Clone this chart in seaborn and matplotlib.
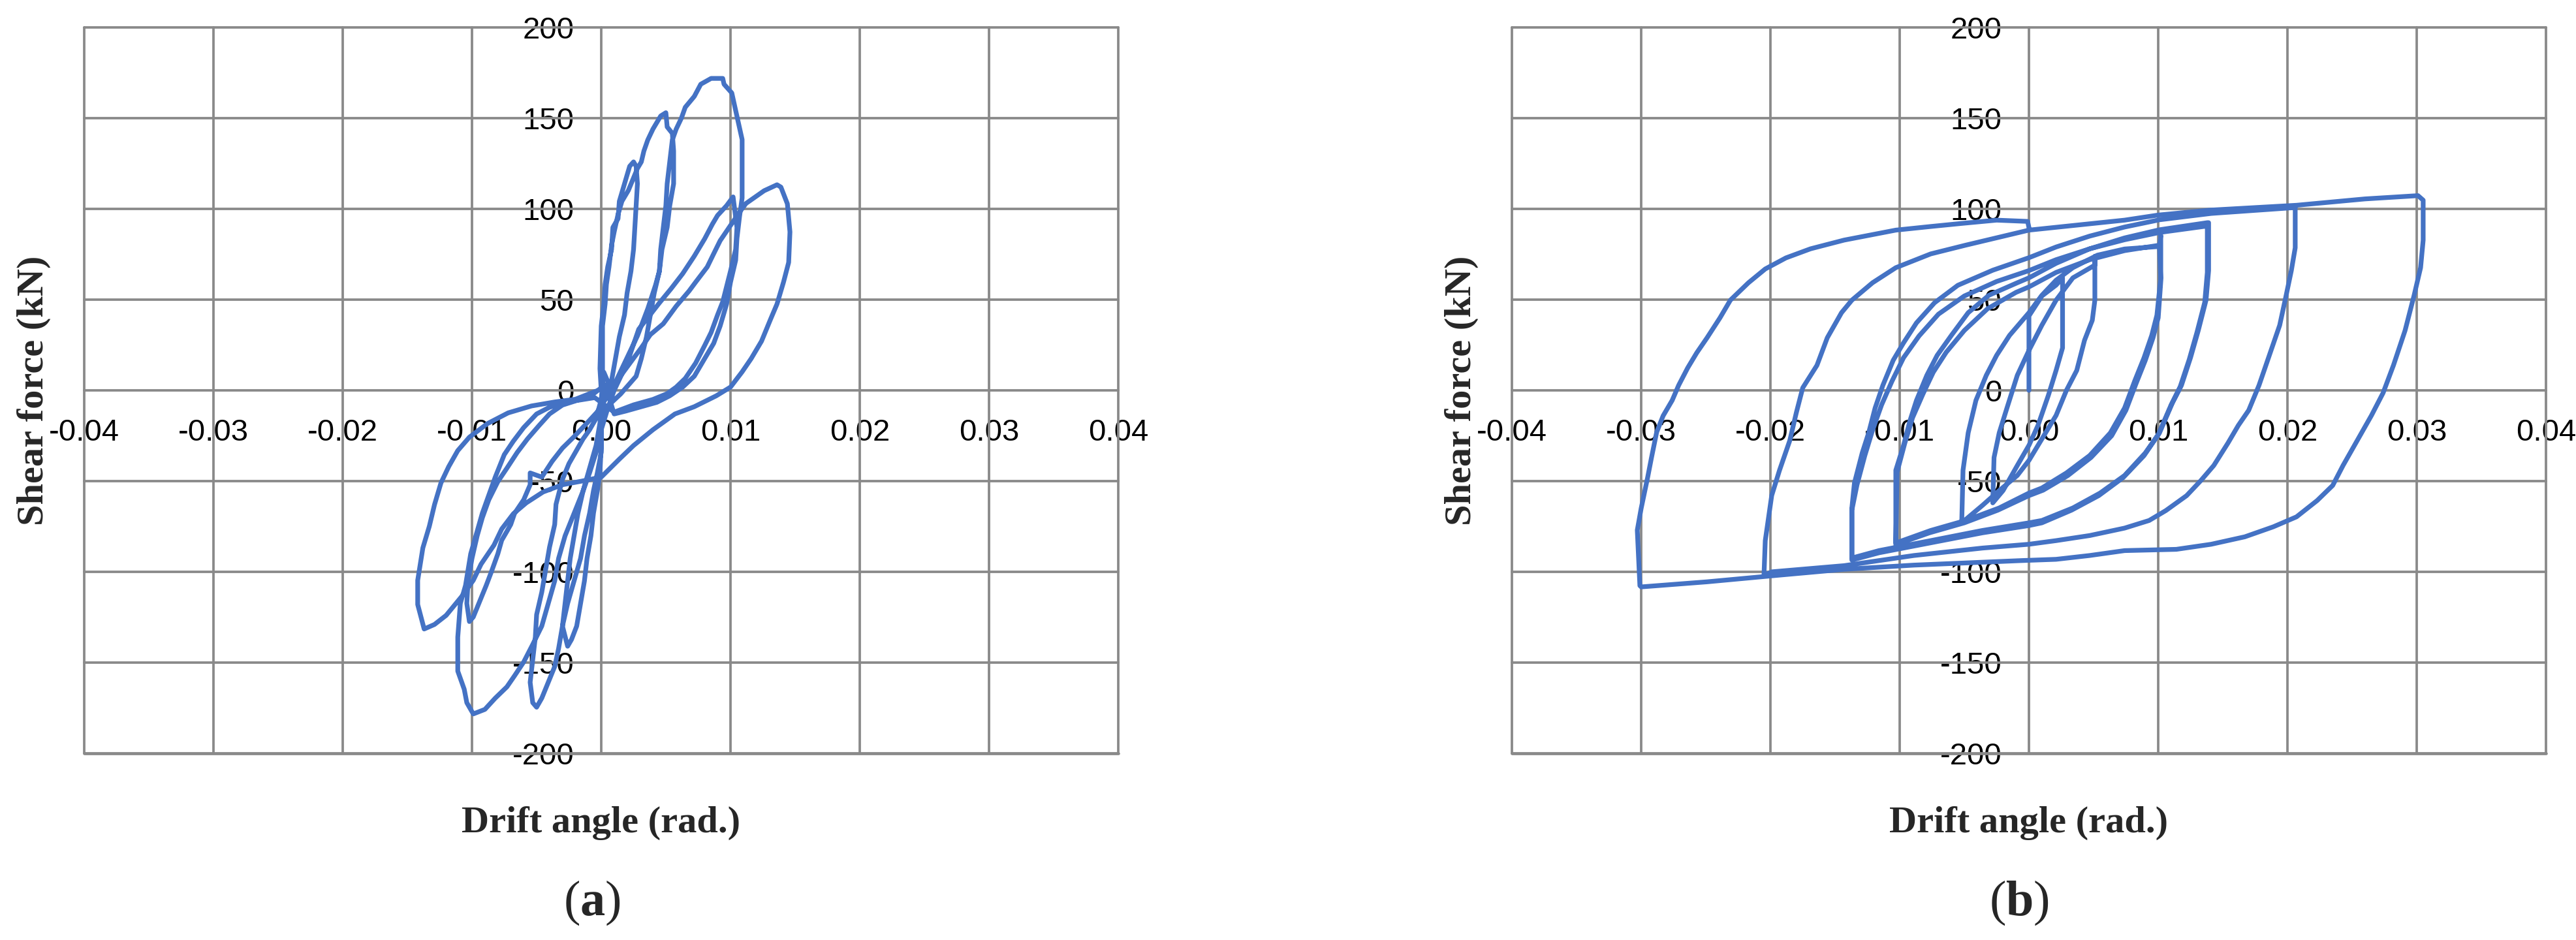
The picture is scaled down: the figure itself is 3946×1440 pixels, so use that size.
import numpy as np
import pandas as pd
import matplotlib
matplotlib.use("Agg")
import matplotlib.pyplot as plt
import seaborn as sns
from matplotlib.ticker import FixedLocator, FormatStrFormatter

# ---------------- data: panel (a) lobes ----------------
a1_drift = [0, -0.0001, 0, 0.0002, 0.0003, 0.0005, 0.0008, 0.0009, 0.0013, 0.0014, 0.0016, 0.0019, 0.0022, 0.0025,
            0.0027, 0.0028, 0.0027, 0.0026, 0.0025, 0.0023, 0.0020, 0.0018, 0.0014, 0.0011, 0.0008, 0.0003, 0]
a1_force = [0, 12, 35.5, 47.6, 58.4, 68, 77.7, 89.8, 94.6, 104.2, 109, 116.3, 123.5, 125.9,
            123.5, 113.9, 101.8, 89.8, 77.7, 65.7, 53.6, 41.6, 29.5, 17.5, 5.4, -3, -10]

a2_drift = [0, -0.0001, -0.0003, -0.0006, -0.0008, -0.0011, -0.0013, -0.0016, -0.0019, -0.0023, -0.0026,
            -0.0030, -0.0028, -0.0026, -0.0024, -0.0021, -0.0018, -0.0014, -0.0009, -0.0004, -0.0001, 0.0001]
a2_force = [-30.4, -45.4, -55.3, -67.7, -80.2, -92.6, -105, -117.4, -129.9, -137.3, -141,
            -129.9, -117.4, -105, -92.6, -80.2, -67.7, -55.3, -42.9, -30.4, -18, 0]

a3_drift = [0.0001, 0.0003, 0.0004, 0.0006, 0.0008, 0.0010, 0.0013, 0.0016, 0.0021, 0.0028, 0.0031, 0.0033,
            0.0036, 0.0040, 0.0043, 0.0046, 0.0050, 0.0051, 0.0055, 0.0056, 0.0056, 0.0053, 0.0051, 0.0047,
            0.0045, 0.0041, 0.0038, 0.0035, 0.0031, 0.0027, 0.0015, 0.0003, 0]
a3_force = [35.5, 47.6, 58.4, 68, 80.1, 87.3, 97, 104.2, 110.2, 122.3, 125.9, 131.9,
            138, 144, 147.6, 151.2, 153, 145.2, 141.6, 131.9, 113.9, 101.8, 89.8, 77.7,
            65.7, 53.6, 41.6, 29.5, 17.5, 7.8, -2, -10, -20]

a4_drift = [0, -0.0003, -0.0006, -0.0009, -0.0013, -0.0016, -0.0021, -0.0026, -0.0030, -0.0033, -0.0036,
            -0.0041, -0.0046, -0.0050, -0.0053, -0.0055, -0.0053, -0.0051, -0.0050, -0.0046, -0.0043,
            -0.0040, -0.0036, -0.0035, -0.0030, -0.0025, -0.0019, -0.0014, -0.0009, -0.0004, 0, 0.0002]
a4_force = [-34.2, -45.4, -55.3, -67.7, -80.2, -92.6, -105, -117.4, -129.9, -142.3, -152.2,
            -160.9, -169.6, -174.6, -172.1, -160.9, -148.5, -136, -123.6, -111.2, -98.8,
            -86.4, -73.9, -62.8, -49.1, -40.4, -32.9, -26.7, -21.7, -15.5, -5, 10]

a5_drift = [0.0008, 0.0018, 0.0028, 0.0036, 0.0042, 0.0045, 0.0046, 0.0048, 0.0050, 0.0051, 0.0053, 0.0055,
            0.0058, 0.0062, 0.0065, 0.0072, 0.0077, 0.0085, 0.0094, 0.0095, 0.0101, 0.0103, 0.0106, 0.0109,
            0.0109, 0.0107, 0.0105, 0.0104, 0.0100, 0.0097, 0.0092, 0.0087, 0.0080, 0.0072, 0.0063, 0.0053,
            0.0043, 0.0031, 0.0019, 0.0010]
a5_force = [0, 15, 30, 45, 58, 65.7, 77.7, 89.8, 101.8, 113.9, 125.9, 138,
            144, 150, 156, 162, 168.7, 171.9, 171.9, 168.7, 163.9, 157.4, 147.8, 138.2,
            106, 95.8, 83.7, 71.7, 59.6, 47.6, 35.5, 25.9, 17.5, 7.8, 1.8, -3,
            -6.6, -9, -11.4, -13]

a6_drift = [0.0003, -0.0006, -0.0016, -0.0028, -0.0040, -0.0050, -0.0060, -0.0068, -0.0075, -0.0082, -0.0087,
            -0.0092, -0.0097, -0.0101, -0.0103, -0.0105, -0.0109, -0.0111, -0.0111, -0.0106, -0.0104, -0.0099,
            -0.0090, -0.0082, -0.0073, -0.0067, -0.0060, -0.0053, -0.0046, -0.0041, -0.0036, -0.0033, -0.0028,
            -0.0021, -0.0014, -0.0009, -0.0004, 0, 0.0005, 0.0010]
a6_force = [3.1, -1.9, -5, -6.8, -9.3, -13, -20.5, -28, -35.4, -47.8, -57.8,
            -67.7, -80.2, -90.1, -98.8, -107.5, -117.4, -136, -154.7, -164.7, -172.1, -178.3,
            -175.8, -169.6, -163.4, -157.2, -149.7, -140, -129.9, -117.4, -105, -92.6, -80.2,
            -67.7, -55.3, -45.4, -34.2, -21.7, -10, 0]

a7_drift = [0.0020, 0.0029, 0.0036, 0.0045, 0.0054, 0.0063, 0.0072, 0.0080, 0.0086, 0.0090, 0.0097, 0.0102,
            0.0105, 0.0104, 0.0100, 0.0097, 0.0094, 0.0090, 0.0085, 0.0080, 0.0073, 0.0065, 0.0058, 0.0051,
            0.0040, 0.0025, 0.0010]
a7_force = [15, 33.7, 40, 48.2, 56, 64.3, 74, 83.5, 91.6, 96.4, 101.8, 106.6,
            89.8, 77.7, 65.7, 57.2, 48.8, 41.6, 31.9, 24.7, 15, 6.6, 1.8, -1.8,
            -5, -8, -12]

a8_drift = [-0.0005, -0.0019, -0.0030, -0.0040, -0.0048, -0.0057, -0.0065, -0.0073, -0.0080, -0.0087, -0.0092,
            -0.0096, -0.0100, -0.0103, -0.0104, -0.0102, -0.0099, -0.0094, -0.0089, -0.0085, -0.0080, -0.0077,
            -0.0073, -0.0070, -0.0067, -0.0060, -0.0055, -0.0055, -0.0046, -0.0038, -0.0030, -0.0021, -0.0011,
            -0.0003, 0.0005, 0.0015]
a8_force = [-4, -5.6, -8.1, -13, -19.3, -26.7, -34.2, -42.9, -50.3, -60.3, -70.2,
            -80.2, -92.6, -105, -117.4, -127.4, -124.9, -116.2, -107.5, -100, -90.1, -82.6,
            -77.7, -73.9, -67.7, -60.3, -52, -45.5, -47.8, -39.1, -31.8, -25.5, -18,
            -11.8, -3, 8]

a9_drift = [0.0031, 0.0038, 0.0048, 0.0058, 0.0068, 0.0073, 0.0082, 0.0087, 0.0092, 0.0099, 0.0107, 0.0112,
            0.0126, 0.0136, 0.0139, 0.0144, 0.0146, 0.0145, 0.0141, 0.0136, 0.0131, 0.0124, 0.0116, 0.0109,
            0.0100, 0.0089, 0.0072, 0.0057, 0.0040, 0.0025, 0.0014, 0]
a9_force = [23.5, 30.7, 36.7, 46.4, 54.8, 59.6, 68, 75.3, 82.5, 89.8, 98.2, 103,
            110, 113.3, 112, 102.8, 87.3, 70.5, 59.6, 47.6, 39.2, 27.1, 17.5, 10.2,
            1.8, -3, -9, -13, -21.7, -30.4, -37.9, -47.8]

a10_drift = [-0.0015, -0.0030, -0.0045, -0.0058, -0.0068, -0.0077, -0.0083, -0.0093, -0.0099, -0.0108, -0.0120,
             -0.0129, -0.0137, -0.0142, -0.0142, -0.0138, -0.0133, -0.0129, -0.0124, -0.0118, -0.0111, -0.0102,
             -0.0088, -0.0072, -0.0054, -0.0036, -0.0020, -0.0004]
a10_force = [-50, -52, -56, -62, -68, -76.4, -85.3, -95.8, -104.7, -113.6, -124,
             -129, -131.5, -118, -104.7, -86.8, -74.9, -63, -51, -42, -33.2, -25.8,
             -18.3, -12.4, -8.6, -6.4, -4.9, -0.4]

# ---------------- data: panel (b) cycles ----------------
b1_drift = [0, 0, 0.0010, 0.0021, 0.0026, 0.0026, 0.0021, 0.0015, 0.0007, 0, -0.0009, -0.0020, -0.0028]
b1_force = [0, 41, 52, 58, 62, 23.4, 11, -2.8, -19.3, -30.3, -41.4, -55.2, -62]

b2_drift = [-0.0027, -0.0023, -0.0017, -0.0009, 0, 0.0010, 0.0021, 0.0034, 0.0051, 0.0051,
            0.0051, 0.0049, 0.0043, 0.0037, 0.0029, 0.0021, 0.0007, 0, -0.0009, -0.0023, -0.0036, -0.0052]
b2_force = [-37, -23.4, -9.7, 8.3, 22, 35.9, 49.7, 62, 69, 73.8,
            49.7, 38.6, 27.6, 11, 0, -13.8, -30.3, -38.6, -46.9, -55.2, -63.4, -73]

b3_drift = [-0.0051, -0.0047, -0.0041, -0.0033, -0.0025, -0.0015, 0, 0.0010, 0.0021, 0.0034, 0.0053, 0.0074,
            0.0101, 0.0102, 0.0102, 0.0099, 0.0095, 0.0089, 0.0082, 0.0074, 0.0063, 0.0047, 0.0029, 0.0010, 0,
            -0.0023, -0.0049, -0.0076, -0.0103]
b3_force = [-44, -23.4, -5.5, 8.3, 19.3, 30.3, 42.8, 52.4, 60.7, 67.6, 74.5, 77.9,
            79.3, 85.5, 62, 41.4, 30.3, 17.9, 5.5, -9.7, -23.4, -35.9, -45.5, -53.8, -56.6,
            -64.8, -71.7, -77.2, -84.1]

b3b_drift = [-0.0102, -0.0096, -0.0090, -0.0082, -0.0074, -0.0064, -0.0050, -0.0032, -0.0010, 0, 0.0021, 0.0047,
             0.0074, 0.0101, 0.0102, 0.0100, 0.0096, 0.0090, 0.0083, 0.0075, 0.0064, 0.0048, 0.0030, 0.0011, 0,
             -0.0024, -0.0050, -0.0077, -0.0103]
b3b_force = [-45, -29, -15, -2, 10, 21, 33, 45, 54, 57, 65, 72,
             77, 80, 60, 40, 29, 16.5, 4, -11, -25, -37, -47, -55, -58,
             -66, -73, -78.5, -85]

b4_drift = [-0.0103, -0.0097, -0.0092, -0.0087, -0.0079, -0.0071, -0.0060, -0.0047, -0.0031, -0.0009, 0,
            0.0021, 0.0047, 0.0074, 0.0101, 0.0138, 0.0139, 0.0139, 0.0137, 0.0131, 0.0125, 0.0118, 0.0111,
            0.0101, 0.0090, 0.0074, 0.0055, 0.0034, 0.0010, 0, -0.0036, -0.0076, -0.0116, -0.0137]
b4_force = [-44, -30.3, -16.6, -5.5, 8.3, 19.3, 30.3, 42.8, 52.4, 59.3, 62,
            70, 78, 84, 88.5, 92.4, 92.4, 66, 49.7, 33, 18, 2.8, -6.9,
            -23.4, -34.5, -46.9, -56.6, -64.8, -71.7, -73, -77.2, -82.8, -88.3, -92.4]

b4b_drift = [-0.0137, -0.0133, -0.0127, -0.0121, -0.0114, -0.0106, -0.0097, -0.0085, -0.0070, -0.0050, -0.0025,
             0, 0.0021, 0.0047, 0.0074, 0.0101, 0.0137, 0.0138, 0.0138, 0.0136, 0.0130, 0.0124, 0.0117, 0.0110,
             0.0100, 0.0089, 0.0073, 0.0054, 0.0033, 0.0010, 0, -0.0036, -0.0076, -0.0116, -0.0137]
b4b_force = [-66, -52, -36, -22, -8, 5, 18, 30, 42, 52, 60,
             66, 72, 78, 83, 87, 90.5, 90.5, 65, 48.5, 32, 17, 2, -8,
             -24.5, -36, -48, -58, -66, -73, -74.5, -78.5, -84, -89.5, -93.5]

b5_drift = [-0.0137, -0.0135, -0.0129, -0.0124, -0.0119, -0.0113, -0.0105, -0.0097, -0.0087, -0.0073, -0.0055,
            -0.0028, 0, 0.0021, 0.0047, 0.0074, 0.0101, 0.0141, 0.0205, 0.0206, 0.0206, 0.0203, 0.0199, 0.0194,
            0.0186, 0.0178, 0.0170, 0.0162, 0.0154, 0.0143, 0.0133, 0.0122, 0.0106, 0.0093, 0.0074, 0.0047,
            0.0021, 0, -0.0036, -0.0089, -0.0143, -0.0199, -0.0205]
b5_force = [-64.8, -51, -34.5, -23.4, -9.7, 2.8, 16.6, 26.2, 37.2, 48.3, 57.9,
            66.2, 73.1, 79, 85, 90, 94, 97.5, 100.7, 100.7, 78.6, 66, 52.4, 35.9,
            19.3, 2.8, -11, -19.3, -29, -41.4, -49.7, -58, -66.2, -71.7, -75.9, -80,
            -82.8, -84.8, -86.9, -91, -96.6, -100, -102]

b6_drift = [-0.0204, -0.0199, -0.0193, -0.0185, -0.0180, -0.0175, -0.0164, -0.0156, -0.0145, -0.0137, -0.0121,
            -0.0103, -0.0076, -0.0049, 0, 0.0074, 0.0100, 0.0140, 0.0207, 0.0260, 0.0301, 0.0305, 0.0305,
            0.0303, 0.0298, 0.0291, 0.0282, 0.0274, 0.0265, 0.0254, 0.0243, 0.0235, 0.0223, 0.0207, 0.0189,
            0.0167, 0.0141, 0.0114, 0.0074, 0.0047, 0.0021, -0.0006, -0.0089, -0.0143, -0.0196, -0.0249, -0.0300]
b6_force = [-82.8, -57.9, -44.1, -27.6, -12.4, 1.4, 13.8, 29, 42.8, 49.7, 59.3,
            67.6, 75.2, 80, 88.3, 93.8, 96.6, 99.3, 102, 105.5, 107.3, 104.8, 82.8,
            67.6, 52.4, 33, 13.8, -1.4, -13.8, -27.6, -41.4, -52.4, -60.7, -69.7, -75.2,
            -80.7, -84.8, -87.6, -88.3, -91, -93.1, -93.8, -96.3, -98.6, -102, -105.5, -108.3]

b7_drift = [-0.0301, -0.0303, -0.0300, -0.0295, -0.0292, -0.0288, -0.0283, -0.0276, -0.0271, -0.0264, -0.0257,
            -0.0249, -0.0239, -0.0231, -0.0217, -0.0204, -0.0188, -0.0169, -0.0143, -0.0103, -0.0076, -0.0052,
            -0.0025, -0.0001, 0]
b7_force = [-107.6, -77, -65, -48, -37, -23, -14, -5.5, 2.8, 12.4, 20.7,
            29, 40, 49.7, 59.3, 66.9, 73, 78, 82.8, 88.3, 90.3, 92,
            93.8, 93.1, 89.7]

# ---------------- axis ticks & labels ----------------
x_ticks = [-0.04, -0.03, -0.02, -0.01, 0.00, 0.01, 0.02, 0.03, 0.04]
y_ticks = [-200, -150, -100, -50, 0, 50, 100, 150, 200]
x_label = "Drift angle (rad.)"
y_label = "Shear force (kN)"
panel_tags = ["a", "b"]

BLUE = "#4472C4"
GRID = "#898989"

sns.set_style("white")
plt.rcParams["font.family"] = ["Liberation Sans", "DejaVu Sans"]
plt.rcParams["axes.unicode_minus"] = False
plt.rcParams["mathtext.fontset"] = "custom"
plt.rcParams["mathtext.rm"] = "Liberation Serif"
plt.rcParams["mathtext.bf"] = "Liberation Serif:bold"


def build(pairs):
    xs, ys = [], []
    for dx, fy in pairs:
        xs += list(dx)
        ys += list(fy)
    return pd.DataFrame({"drift": xs, "force": ys, "order": np.arange(len(xs))})


df_a = build([(a1_drift, a1_force), (a2_drift, a2_force), (a3_drift, a3_force), (a4_drift, a4_force),
              (a5_drift, a5_force), (a6_drift, a6_force), (a7_drift, a7_force), (a8_drift, a8_force),
              (a9_drift, a9_force), (a10_drift, a10_force)])
df_b = build([(b1_drift, b1_force), (b2_drift, b2_force), (b3_drift, b3_force), (b3b_drift, b3b_force),
              (b4_drift, b4_force), (b4b_drift, b4b_force), (b5_drift, b5_force), (b6_drift, b6_force),
              (b7_drift, b7_force)])

W, H = 3946, 1440
fig = plt.figure(figsize=(W / 100, H / 100), dpi=100)
ax_a = fig.add_axes([129 / W, 1 - 1154 / H, 1584 / W, 1112 / H])
ax_b = fig.add_axes([2316 / W, 1 - 1154 / H, 1584 / W, 1112 / H])


def style(ax):
    ax.set_xlim(x_ticks[0], x_ticks[-1])
    ax.set_ylim(y_ticks[0], y_ticks[-1])
    for xv in x_ticks:
        ax.axvline(xv, color=GRID, lw=2.7, zorder=1, clip_on=False)
    for yv in y_ticks:
        lw = 3.4 if yv == y_ticks[0] else 2.7
        ax.axhline(yv, color=GRID, lw=lw, zorder=1, clip_on=False)
    for s in ax.spines.values():
        s.set_visible(False)
    ax.spines["left"].set_position(("data", 0))
    ax.spines["bottom"].set_position(("data", 0))
    ax.xaxis.set_major_locator(FixedLocator(x_ticks))
    ax.yaxis.set_major_locator(FixedLocator(y_ticks))
    ax.xaxis.set_major_formatter(FormatStrFormatter("%.2f"))
    ax.yaxis.set_major_formatter(FormatStrFormatter("%d"))
    ax.tick_params(axis="x", length=0, pad=31, labelsize=34, labelcolor="black")
    ax.tick_params(axis="y", length=0, pad=30, labelsize=34, labelcolor="black")
    ax.set_xlabel(x_label, fontfamily="Liberation Serif", fontweight="bold", fontsize=42)
    ax.xaxis.set_label_coords(0.5, -0.073)
    ax.set_ylabel(y_label, fontfamily="Liberation Serif", fontweight="bold", fontsize=42)
    ax.yaxis.set_label_coords(-0.032, 0.5)
    ax.patch.set_alpha(0)


for ax, df in ((ax_a, df_a), (ax_b, df_b)):
    sns.lineplot(data=df, x="drift", y="force", sort=False, estimator=None, ax=ax,
                 color=BLUE, linewidth=5.2, solid_joinstyle="round", solid_capstyle="round", zorder=2)
    style(ax)

for xc, tag in zip((907 / W, 3093 / W), panel_tags):
    fig.text(xc, 1 - 1383 / H, "(" + r"$\mathbf{" + tag + "}$" + ")", ha="center", va="center",
             fontsize=55, fontfamily="Liberation Serif")

fig.savefig("out.png", dpi=100, facecolor="white")
